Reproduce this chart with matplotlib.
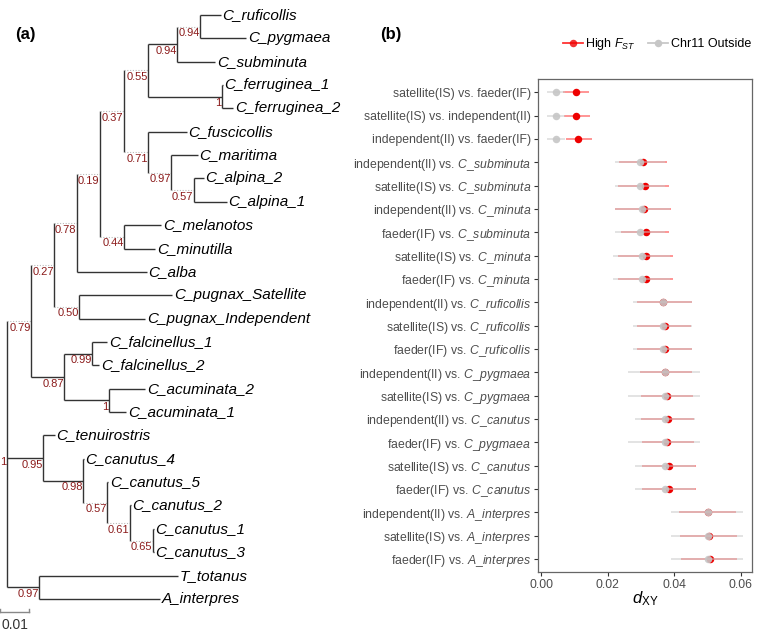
import matplotlib
matplotlib.use('Agg')
import matplotlib.pyplot as plt
from matplotlib.lines import Line2D
import numpy as np

plt.rcParams['font.family'] = ['Liberation Sans', 'DejaVu Sans']
plt.rcParams['mathtext.fontset'] = 'custom'
plt.rcParams['mathtext.rm'] = 'Liberation Sans'
plt.rcParams['mathtext.it'] = 'Liberation Sans:italic'
plt.rcParams['mathtext.bf'] = 'Liberation Sans:bold'

# (a) tree, support values as internal node names
newick = ("(((((((((C_ruficollis:0.0072,C_pygmaea:0.0159)0.94:0.0079,C_subminuta:0.0131)0.94:0.0100,"
          "(C_ferruginea_1:0.0003,C_ferruginea_2:0.0038)1:0.0255)0.55:0.0083,"
          "(C_fuscicollis:0.0134,(C_maritima:0.0093,(C_alpina_2:0.0034,C_alpina_1:0.0114)0.57:0.0079)0.97:0.0079)0.71:0.0083)0.37:0.0083,"
          "(C_melanotos:0.0128,C_minutilla:0.0107)0.44:0.0083)0.19:0.0079,C_alba:0.0241)0.78:0.0079,"
          "(C_pugnax_Satellite:0.0321,C_pugnax_Independent:0.0228)0.50:0.0086)0.27:0.0079,"
          "((C_falcinellus_1:0.0052,C_falcinellus_2:0.0024)0.99:0.0097,(C_acuminata_2:0.0124,C_acuminata_1:0.0059)1:0.0155)0.87:0.0114)0.79:0.0083,"
          "(C_tenuirostris:0.0041,(C_canutus_4:0.0003,(C_canutus_5:0.0003,(C_canutus_2:0.0003,"
          "(C_canutus_1:0.0003,C_canutus_3:0.0003)0.65:0.0079)0.61:0.0079)0.57:0.0083)0.98:0.0138)0.95:0.0124,"
          "(T_totanus:0.0479,A_interpres:0.0417)0.97:0.0110)1;")
scale_len = 0.01

# (b) dXY per comparison
pairs = ["satellite(IS) vs. faeder(IF)", "satellite(IS) vs. independent(II)", "independent(II) vs. faeder(IF)",
         "independent(II) vs. C_subminuta", "satellite(IS) vs. C_subminuta", "independent(II) vs. C_minuta  ",
         "faeder(IF) vs. C_subminuta", "satellite(IS) vs. C_minuta  ", "faeder(IF) vs. C_minuta  ",
         "independent(II) vs. C_ruficollis", "satellite(IS) vs. C_ruficollis", "faeder(IF) vs. C_ruficollis",
         "independent(II) vs. C_pygmaea", "satellite(IS) vs. C_pygmaea", "independent(II) vs. C_canutus",
         "faeder(IF) vs. C_pygmaea", "satellite(IS) vs. C_canutus", "faeder(IF) vs. C_canutus",
         "independent(II) vs. A_interpres", "satellite(IS) vs. A_interpres", "faeder(IF) vs. A_interpres"]
high_mean = [0.0104, 0.0105, 0.0111, 0.0307, 0.0312, 0.0308, 0.0314, 0.0314, 0.0315, 0.0366, 0.0372,
             0.0371, 0.0373, 0.0379, 0.0380, 0.0379, 0.0385, 0.0385, 0.0502, 0.0505, 0.0507]
high_lo = [0.0066, 0.0068, 0.0074, 0.0234, 0.0229, 0.0221, 0.0238, 0.0229, 0.0229, 0.0289, 0.0289,
           0.0289, 0.0297, 0.0299, 0.0299, 0.0302, 0.0302, 0.0302, 0.0414, 0.0417, 0.0419]
high_hi = [0.0144, 0.0145, 0.0151, 0.0377, 0.0383, 0.0389, 0.0385, 0.0397, 0.0397, 0.0452, 0.0451,
           0.0452, 0.0452, 0.0457, 0.0459, 0.0459, 0.0464, 0.0464, 0.0586, 0.0590, 0.0590]
out_mean = [0.0044, 0.0044, 0.0044, 0.0297, 0.0297, 0.0304, 0.0297, 0.0304, 0.0304, 0.0365, 0.0365,
            0.0365, 0.0372, 0.0372, 0.0372, 0.0373, 0.0371, 0.0373, 0.0500, 0.0500, 0.0500]
out_lo = [0.0016, 0.0016, 0.0016, 0.0221, 0.0221, 0.0221, 0.0221, 0.0216, 0.0216, 0.0277, 0.0277,
          0.0277, 0.0262, 0.0262, 0.0282, 0.0262, 0.0282, 0.0282, 0.0389, 0.0389, 0.0389]
out_hi = [0.0070, 0.0070, 0.0070, 0.0373, 0.0373, 0.0388, 0.0373, 0.0388, 0.0388, 0.0452, 0.0452,
          0.0452, 0.0477, 0.0477, 0.0462, 0.0477, 0.0462, 0.0462, 0.0606, 0.0606, 0.0606]


def parse_newick(s):
    pos = 0

    def node():
        nonlocal pos
        children = []
        if s[pos] == '(':
            pos += 1
            while True:
                children.append(node())
                if s[pos] == ',':
                    pos += 1
                else:
                    pos += 1  # ')'
                    break
        start = pos
        while s[pos] not in ',():;':
            pos += 1
        name = s[start:pos]
        bl = 0.0
        if s[pos] == ':':
            pos += 1
            start = pos
            while s[pos] not in ',();':
                pos += 1
            bl = float(s[start:pos])
        return {'name': name, 'bl': bl, 'children': children}

    return node()


tree = parse_newick(newick)
tips = []


def layout(nd, x):
    nd['x'] = x
    if nd['children']:
        for c in nd['children']:
            layout(c, x + c['bl'])
        nd['y'] = np.mean([c['y'] for c in nd['children']])
    else:
        nd['y'] = len(tips)
        tips.append(nd)


layout(tree, 0.0)

fig = plt.figure(figsize=(7.6, 6.44), dpi=100)

# ---- (a) tree
axt = fig.add_axes([0, 0, 0.5, 1])
axt.set_xlim(-0.00241, 0.1286)
axt.set_ylim(26.93, -0.642)
axt.axis('off')

lc = '#333333'


def draw(nd):
    if nd['children']:
        ys = [c['y'] for c in nd['children']]
        axt.plot([nd['x'], nd['x']], [min(ys), max(ys)], color=lc, lw=1.0, solid_capstyle='butt')
        for c in nd['children']:
            if c['children'] and c['bl'] < 0.0087:
                # branch hidden behind the support label box
                axt.plot([nd['x'], c['x']], [c['y'], c['y']], color='#BBBBBB', lw=0.8, ls=(0, (1, 1.5)))
            else:
                axt.plot([nd['x'], c['x']], [c['y'], c['y']], color=lc, lw=1.0, solid_capstyle='butt')
            draw(c)
        axt.text(nd['x'] - 0.0001, nd['y'] + 0.28, nd['name'], ha='right', va='center',
                 color='#8B1A1A', fontsize=8)
    else:
        axt.text(nd['x'] + 0.0006, nd['y'], nd['name'], ha='left', va='center',
                 style='italic', fontsize=11, color='black')


draw(tree)

# scale bar
x0 = -0.00241
axt.plot([x0, x0 + scale_len], [25.56, 25.56], color='#888888', lw=1.0)
axt.plot([x0, x0], [25.56, 25.43], color='#888888', lw=1.0)
axt.plot([x0 + scale_len, x0 + scale_len], [25.56, 25.43], color='#888888', lw=1.0)
axt.text(x0 + scale_len / 2, 26.1, "0.01", ha='center', va='center', fontsize=10, color='#333333')

fig.text(15 / 760, 1 - 35 / 644, "(a)", fontsize=12, fontweight='bold', va='center', ha='left')
fig.text(380 / 760, 1 - 34 / 644, "(b)", fontsize=12, fontweight='bold', va='center', ha='left')

# ---- (b) dXY
ax = fig.add_axes([0.7083, 0.1123, 0.2816, 0.7651])
yk = np.arange(len(pairs))
ax.hlines(yk, high_lo, high_hi, color='#FF0000', alpha=0.45, lw=1.3, zorder=2)
ax.plot(high_mean, yk, 'o', color='#EE0000', ms=5.4, mew=0, zorder=3)
ax.hlines(yk, out_lo, out_hi, color='#C8C8C8', alpha=0.55, lw=1.3, zorder=4)
ax.plot(out_mean, yk, 'o', color='#C6C6C6', alpha=0.9, ms=5.4, mew=0, zorder=5)


def fmt(lbl):
    left, right = lbl.split(' vs. ')

    def part(s):
        core = s.rstrip()
        if core.startswith(('C_', 'A_')):
            pad = r'\ ' * (len(s) - len(core))
            return r'$\mathit{' + core.replace('_', r'\_') + '}' + pad + '$'
        return s

    return part(left) + ' vs. ' + part(right)


ax.set_yticks(yk)
ax.set_yticklabels([fmt(p) for p in pairs], fontsize=8.8, color='#4D4D4D')
ax.set_ylim(20.55, -0.57)
ax.set_xlim(-0.00096, 0.0635)
ax.set_xticks([0, 0.02, 0.04, 0.06])
ax.set_xticklabels(['0.00', '0.02', '0.04', '0.06'], fontsize=8.8, color='#4D4D4D')
ax.tick_params(length=3, width=0.8, color='#333333', pad=2)
for sp in ax.spines.values():
    sp.set_color('#666666')
    sp.set_linewidth(0.9)
ax.set_xlabel(r'$d_{\mathrm{XY}}$', fontsize=12)
ax.xaxis.set_label_coords(0.5, -0.035)
ax.xaxis.label.set_va('top')

handles = [Line2D([], [], color='#FF0000', alpha=0.8, lw=1.3, marker='o', ms=5.4, mew=0, mfc='#EE0000'),
           Line2D([], [], color='#C8C8C8', lw=1.3, marker='o', ms=5.4, mew=0, mfc='#C6C6C6')]
ax.legend(handles, [r'High $F_{ST}$', 'Chr11 Outside'], ncol=2, frameon=False, fontsize=9,
          loc='center right', bbox_to_anchor=(751 / 760, 1 - 44 / 644), bbox_transform=fig.transFigure,
          borderpad=0, handlelength=1.6, handletextpad=0.2, columnspacing=1.0, borderaxespad=0)

fig.savefig('out.png', dpi=100)
